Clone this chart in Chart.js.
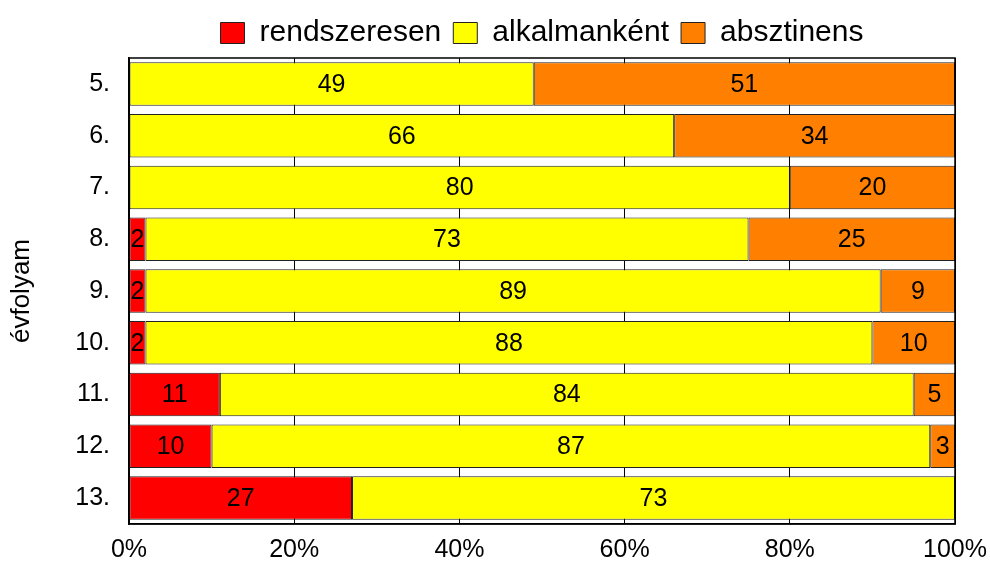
<!DOCTYPE html>
<html>
<head>
<meta charset="utf-8">
<script src="https://cdn.jsdelivr.net/npm/chart.js@4.4.1/dist/chart.umd.min.js"></script>
<style>
  html, body { margin: 0; padding: 0; background: #fff; }
  #wrap { width: 990px; height: 563px; }
</style>
</head>
<body>
<div id="wrap"><canvas id="chart" width="990" height="563"></canvas></div>
<script>
const grades = ["5.", "6.", "7.", "8.", "9.", "10.", "11.", "12.", "13."];
const regular = [0, 0, 0, 2, 2, 2, 11, 10, 27];
const occasional = [49, 66, 80, 73, 89, 88, 84, 87, 73];
const abstinent = [51, 34, 20, 25, 9, 10, 5, 3, 0];
const xTicks = [0, 20, 40, 60, 80, 100];

const font = "'Liberation Sans', Arial, sans-serif";

// number in the middle of each bar piece
const barLabels = {
  id: "barLabels",
  afterDatasetsDraw(chart) {
    const ctx = chart.ctx;
    ctx.save();
    ctx.font = "25px " + font;
    ctx.fillStyle = "#000";
    ctx.textAlign = "center";
    ctx.textBaseline = "middle";
    chart.data.datasets.forEach((ds, i) => {
      chart.getDatasetMeta(i).data.forEach((bar, j) => {
        if (!ds.data[j]) return;
        const p = bar.getCenterPoint();
        ctx.fillText(ds.data[j], p.x, p.y + 1);
      });
    });
    ctx.restore();
  },
};

// frame around plot area
const frame = {
  id: "frame",
  afterDatasetsDraw(chart) {
    const a = chart.chartArea;
    const ctx = chart.ctx;
    ctx.save();
    ctx.strokeStyle = "#000";
    ctx.lineWidth = 1.5;
    ctx.strokeRect(a.left, a.top, a.right - a.left, a.bottom - a.top);
    ctx.restore();
  },
};

function ds(label, data, color) {
  return {
    label: label,
    data: data,
    backgroundColor: color,
    borderColor: "#222",
    borderWidth: 1,
    borderSkipped: false,
    barPercentage: 0.84,
    categoryPercentage: 1,
  };
}

new Chart(document.getElementById("chart"), {
  type: "bar",
  data: {
    labels: grades,
    datasets: [
      ds("rendszeresen", regular, "#FF0000"),
      ds("alkalmanként", occasional, "#FFFF00"),
      ds("absztinens", abstinent, "#FF8000"),
    ],
  },
  options: {
    indexAxis: "y",
    responsive: false,
    animation: false,
    layout: { padding: { top: 6, right: 35, bottom: 0, left: 0 } },
    plugins: {
      tooltip: { enabled: false },
      legend: {
        position: "top",
        fullSize: false,
        labels: {
          font: { family: font, size: 30 },
          color: "#000",
          boxWidth: 24,
          boxHeight: 21,
          padding: 12,
          generateLabels(chart) {
            return chart.data.datasets.map((d, i) => ({
              text: d.label,
              fillStyle: d.backgroundColor,
              strokeStyle: "#222",
              lineWidth: 1,
              datasetIndex: i,
            }));
          },
        },
      },
    },
    scales: {
      x: {
        stacked: true,
        min: 0,
        max: 100,
        afterBuildTicks(scale) {
          scale.ticks = xTicks.map((v) => ({ value: v }));
        },
        afterFit(scale) {
          scale.height = 39;
          scale.paddingLeft = 0;
          scale.paddingRight = 0;
        },
        ticks: {
          font: { family: font, size: 25 },
          color: "#000",
          padding: 11,
          callback: (v) => v + "%",
        },
        grid: { color: "#000", lineWidth: 1, drawTicks: false },
        border: { display: true, color: "#000", width: 1.5 },
      },
      y: {
        stacked: true,
        afterFit(scale) {
          scale.width = 129;
          scale.paddingTop = 0;
          scale.paddingBottom = 0;
        },
        ticks: {
          font: { family: font, size: 25 },
          color: "#000",
          padding: 11,
        },
        title: {
          display: true,
          text: "évfolyam",
          font: { family: font, size: 26 },
          color: "#000",
          padding: { top: 6, bottom: 0 },
        },
        grid: { display: false },
        border: { display: true, color: "#000", width: 1.5 },
      },
    },
  },
  plugins: [barLabels, frame],
});
</script>
</body>
</html>
